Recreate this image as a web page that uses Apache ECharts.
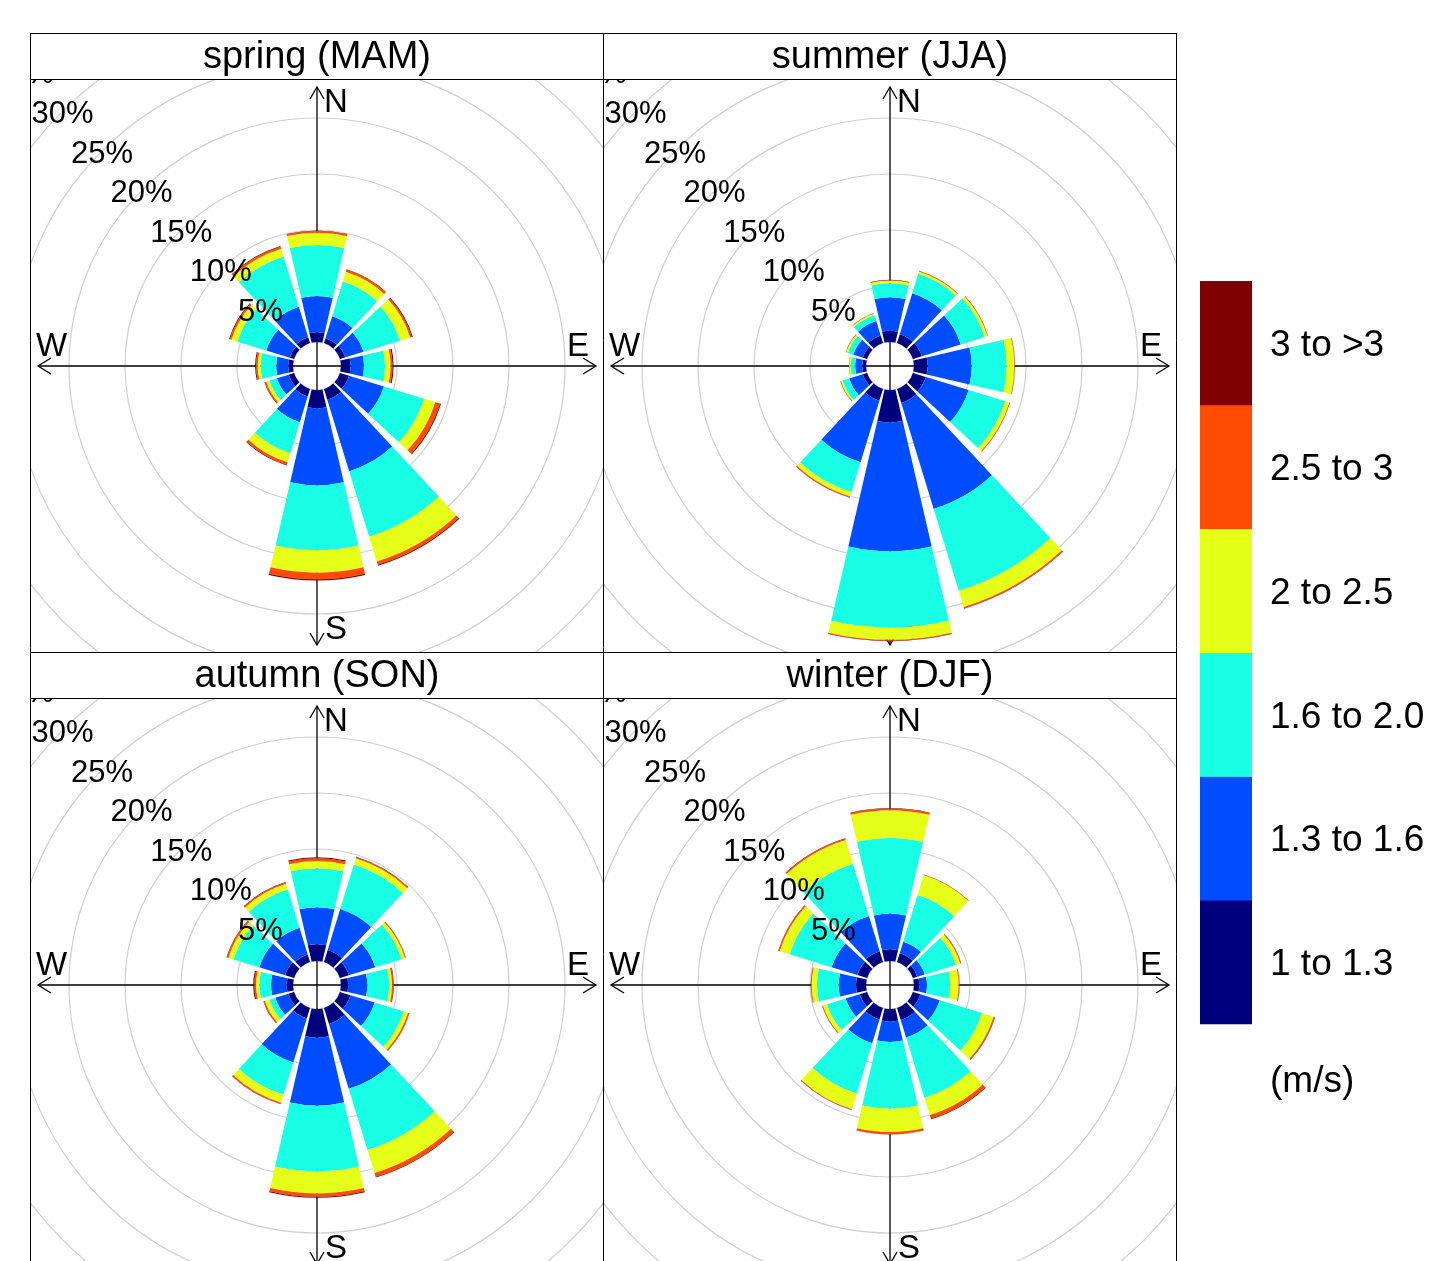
<!DOCTYPE html>
<html>
<head>
<meta charset="utf-8">
<script src="https://cdn.jsdelivr.net/npm/echarts@6/dist/echarts.min.js"></script>
<style>
  html, body { margin: 0; padding: 0; background: #fff; }
  #page { position: relative; width: 1439px; height: 1261px; overflow: hidden; }
  #frame { position: absolute; left: 0; top: 0; width: 1439px; height: 1261px; }
  .panel { position: absolute; width: 572px; }
</style>
</head>
<body>
<div id="page">
  <div id="frame"></div>
  <div class="panel" id="p0" style="left:31px; top:80px; height:572px;"></div>
  <div class="panel" id="p1" style="left:604px; top:80px; height:572px;"></div>
  <div class="panel" id="p2" style="left:31px; top:699px; height:562px;"></div>
  <div class="panel" id="p3" style="left:604px; top:699px; height:562px;"></div>
</div>
<script>
// Wind direction sectors (degrees clockwise from north), 30-degree bins
const directions = [0, 30, 60, 90, 120, 150, 180, 210, 240, 270, 300, 330];

// Wind speed classes (m/s)
const speedBins = ['1 to 1.3', '1.3 to 1.6', '1.6 to 2.0', '2 to 2.5', '2.5 to 3', '3 to >3'];

// Gridline / label percentages
const percentTicks = [5, 10, 15, 20, 25, 30, 35];

const seasonTitles = ['spring (MAM)', 'summer (JJA)', 'autumn (SON)', 'winter (DJF)'];

// Frequency of counts (%) by speed class (rows) and direction (columns)
const springFreq = [
  [0.86, 0.45, 0.50, 0.86, 0.85, 1.00, 1.64, 0.70, 0.50, 0.42, 0.40, 0.55],
  [3.24, 2.05, 1.70, 1.19, 3.25, 6.70, 6.86, 2.40, 1.10, 1.08, 2.20, 2.85],
  [4.56, 3.25, 3.40, 1.88, 3.75, 6.10, 5.80, 2.90, 0.70, 1.40, 2.70, 4.67],
  [1.10, 0.90, 0.95, 0.50, 1.05, 2.30, 2.00, 0.85, 0.30, 0.25, 0.55, 0.73],
  [0.14, 0.20, 0.17, 0.17, 0.45, 0.32, 0.60, 0.23, 0.12, 0.15, 0.15, 0.20],
  [0.05, 0.05, 0.08, 0.10, 0.08, 0.08, 0.10, 0.06, 0.05, 0.08, 0.07, 0.05]
];
const summerFreq = [
  [1.00, 0.83, 0.83, 1.22, 1.20, 1.30, 2.90, 1.10, 0.40, 0.33, 0.40, 0.70],
  [3.00, 3.82, 3.63, 3.93, 4.00, 9.90, 11.50, 5.75, 1.27, 0.65, 0.88, 1.35],
  [1.24, 1.81, 2.24, 3.12, 3.40, 7.65, 6.80, 2.79, 0.63, 0.39, 0.52, 0.55],
  [0.24, 0.22, 0.27, 0.69, 0.40, 1.50, 1.10, 0.41, 0.15, 0.13, 0.16, 0.14],
  [0.04, 0.04, 0.03, 0.04, 0.05, 0.13, 0.08, 0.07, 0.03, 0.02, 0.02, 0.03],
  [0.03, 0.02, 0.02, 0.02, 0.02, 0.04, 0.04, 0.03, 0.02, 0.01, 0.02, 0.01]
];
const autumnFreq = [
  [1.49, 1.13, 0.83, 0.65, 0.98, 1.50, 2.56, 0.98, 0.54, 0.57, 0.83, 0.70],
  [3.31, 3.82, 2.47, 1.70, 2.26, 6.05, 6.07, 4.12, 1.21, 1.39, 2.42, 2.50],
  [3.47, 4.15, 2.45, 1.95, 2.71, 5.72, 5.87, 3.00, 0.55, 1.04, 2.40, 3.60],
  [0.66, 0.58, 0.33, 0.25, 0.40, 2.13, 1.96, 0.75, 0.42, 0.30, 0.48, 0.50],
  [0.24, 0.10, 0.07, 0.12, 0.13, 0.37, 0.30, 0.12, 0.11, 0.15, 0.14, 0.12],
  [0.09, 0.04, 0.02, 0.05, 0.02, 0.06, 0.09, 0.03, 0.03, 0.10, 0.04, 0.05]
];
const winterFreq = [
  [1.04, 0.83, 0.40, 0.48, 0.70, 1.13, 1.10, 1.07, 0.68, 0.90, 0.90, 1.00],
  [3.19, 1.07, 0.70, 0.68, 1.80, 1.64, 1.85, 2.23, 1.32, 1.54, 2.40, 3.30],
  [6.75, 4.37, 2.90, 2.08, 3.94, 5.63, 5.95, 4.70, 1.75, 1.94, 3.93, 4.87],
  [2.47, 1.85, 0.42, 0.75, 1.09, 1.60, 2.08, 1.46, 0.37, 0.47, 0.92, 2.23],
  [0.15, 0.04, 0.08, 0.07, 0.12, 0.33, 0.19, 0.07, 0.06, 0.07, 0.12, 0.12],
  [0.05, 0.02, 0.02, 0.02, 0.03, 0.07, 0.03, 0.02, 0.02, 0.02, 0.03, 0.03]
];

// jet-style palette, slowest to fastest
const binColours = ['#00007F', '#004CFF', '#19FFE5', '#E5FF19', '#FF4C00', '#7F0000'];

const FONT = "'Liberation Sans', Arial, Helvetica, sans-serif";
const CX = 286, CY = 286;          // rose centre inside each panel
const HOLE = 24, OUTER = 416;      // radius of 0 % and 35 %
const ARM = 279;                    // half-length of compass cross

// Compass cross with open arrowheads; sits underneath the bars
function crossGraphics() {
  const ls = { stroke: '#000', lineWidth: 1.3 };
  const open = Object.assign({ fill: null }, ls);
  const items = [
    { type: 'line', z: 1, shape: { x1: CX, y1: CY - ARM, x2: CX, y2: CY + ARM }, style: ls },
    { type: 'line', z: 1, shape: { x1: CX - ARM, y1: CY, x2: CX + ARM, y2: CY }, style: ls },
    { type: 'polyline', z: 1, shape: { points: [[CX - 7, CY - ARM + 12], [CX, CY - ARM], [CX + 7, CY - ARM + 12]] }, style: open },
    { type: 'polyline', z: 1, shape: { points: [[CX - 7, CY + ARM - 12], [CX, CY + ARM], [CX + 7, CY + ARM - 12]] }, style: open },
    { type: 'polyline', z: 1, shape: { points: [[CX + ARM - 13, CY - 8], [CX + ARM, CY], [CX + ARM - 13, CY + 8]] }, style: open },
    { type: 'polyline', z: 1, shape: { points: [[CX - ARM + 13, CY - 8], [CX - ARM, CY], [CX - ARM + 13, CY + 8]] }, style: open }
  ];
  const ts = { fill: '#000', font: '33px ' + FONT, textVerticalAlign: 'middle' };
  items.push({ type: 'text', z: 1, x: CX + 7, y: CY - 263, style: Object.assign({ text: 'N', textAlign: 'left' }, ts) });
  items.push({ type: 'text', z: 1, x: CX + 8, y: CY + 264, style: Object.assign({ text: 'S', textAlign: 'left' }, ts) });
  items.push({ type: 'text', z: 1, x: CX + 272, y: CY - 19, style: Object.assign({ text: 'E', textAlign: 'right' }, ts) });
  items.push({ type: 'text', z: 1, x: CX - 281, y: CY - 19, style: Object.assign({ text: 'W', textAlign: 'left' }, ts) });
  return items;
}

function panelOption(freq) {
  const bars = speedBins.map((name, i) => ({
    type: 'bar',
    name: name,
    coordinateSystem: 'polar',
    polarIndex: 0,
    stack: 'total',
    barCategoryGap: '13.3%',
    data: freq[i],
    itemStyle: { color: binColours[i] },
    silent: true,
    z: 3
  }));
  // percentage labels along the north-west diagonal, on top of the bars
  const labels = {
    type: 'scatter',
    coordinateSystem: 'polar',
    polarIndex: 1,
    symbol: 'circle',
    symbolSize: 0,
    itemStyle: { color: '#000', opacity: 1 },
    data: percentTicks.map(t => [t, 315]),
    label: {
      show: true,
      position: [0, 3],
      align: 'center',
      verticalAlign: 'middle',
      formatter: p => p.value[0] + '%',
      color: '#000',
      opacity: 1,
      textBorderWidth: 0,
      fontSize: 31,
      fontFamily: FONT
    },
    labelLayout: { hideOverlap: false },
    silent: true,
    z: 6
  };
  return {
    animation: false,
    polar: [
      { center: [CX, CY], radius: [HOLE, OUTER] },
      { center: [CX, CY], radius: [HOLE, OUTER] }
    ],
    angleAxis: [
      {
        polarIndex: 0, type: 'category', data: directions.map(String),
        startAngle: 105, clockwise: true, boundaryGap: true,
        axisLine: { show: false }, axisTick: { show: false },
        axisLabel: { show: false }, splitLine: { show: false }
      },
      {
        polarIndex: 1, type: 'value', min: 0, max: 360, startAngle: 90, clockwise: true,
        axisLine: { show: false }, axisTick: { show: false },
        axisLabel: { show: false }, splitLine: { show: false }
      }
    ],
    radiusAxis: [
      {
        polarIndex: 0, type: 'value', min: 0, max: 35, interval: 5,
        axisLine: { show: false }, axisTick: { show: false }, axisLabel: { show: false },
        splitLine: { show: true, showMinLine: false, lineStyle: { color: '#d0d0d0', width: 1.2 } }
      },
      {
        polarIndex: 1, type: 'value', min: 0, max: 35, interval: 5,
        axisLine: { show: false }, axisTick: { show: false },
        axisLabel: { show: false }, splitLine: { show: false }
      }
    ],
    series: bars.concat([labels]),
    graphic: { elements: crossGraphics() }
  };
}

// Frame, strip titles and colour key
function frameOption() {
  const L = 30.5, M = 603.5, R = 1176.5;
  const ls = { stroke: '#000', lineWidth: 1 };
  const els = [];
  [33.5, 79.5, 652.5, 698.5].forEach(y => els.push({ type: 'line', shape: { x1: L, y1: y, x2: R, y2: y }, style: ls }));
  [L, M, R].forEach(x => els.push({ type: 'line', shape: { x1: x, y1: 33, x2: x, y2: 1270 }, style: ls }));
  const centresX = [317, 890, 317, 890], titleY = [58, 58, 677, 677];
  seasonTitles.forEach((t, i) => els.push({
    type: 'text', x: centresX[i], y: titleY[i],
    style: { text: t, fill: '#000', font: '38px ' + FONT, textAlign: 'center', textVerticalAlign: 'middle' }
  }));
  const keyTop = 281, keyH = 123.8;
  speedBins.forEach((b, i) => {
    const k = speedBins.length - 1 - i;   // fastest at the top
    els.push({ type: 'rect', shape: { x: 1200, y: keyTop + k * keyH, width: 52, height: keyH + 0.5 }, style: { fill: binColours[i] } });
    els.push({
      type: 'text', x: 1270, y: keyTop + k * keyH + keyH / 2 + 3,
      style: { text: b, fill: '#000', font: '37px ' + FONT, textAlign: 'left', textVerticalAlign: 'middle' }
    });
  });
  els.push({ type: 'text', x: 1270, y: 1082, style: { text: '(m/s)', fill: '#000', font: '37px ' + FONT, textAlign: 'left', textVerticalAlign: 'middle' } });
  return { animation: false, graphic: { elements: els } };
}

echarts.init(document.getElementById('frame'), null, { renderer: 'canvas' }).setOption(frameOption());
[springFreq, summerFreq, autumnFreq, winterFreq].forEach((f, i) => {
  echarts.init(document.getElementById('p' + i), null, { renderer: 'canvas' }).setOption(panelOption(f));
});
</script>
</body>
</html>
